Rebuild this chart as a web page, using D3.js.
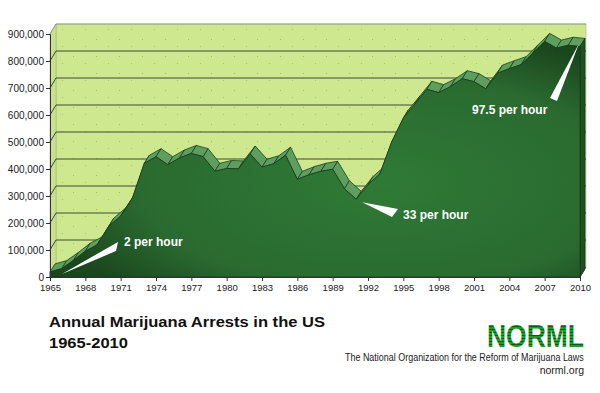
<!DOCTYPE html>
<html><head><meta charset="utf-8">
<script src="https://cdn.jsdelivr.net/npm/d3@7"></script>
<style>html,body{margin:0;padding:0;background:#fff;}svg{display:block;}</style>
</head><body>
<svg id="chart" width="600" height="393"></svg>
<script>
const years = d3.range(1965, 2011);
const arrests = [18815,31119,61843,95870,118903,188682,225828,292179,420700,445600,
  416100,441100,457600,445800,391600,401982,400300,455600,406900,419400,
  451138,361800,378709,391600,399000,326850,287850,342314,380689,499122,
  588963,641642,695201,682885,704812,734497,723627,697082,755186,771605,
  786545,829625,872721,847864,858408,853838];
const yTicks = [0,100000,200000,300000,400000,500000,600000,700000,800000,900000];
const xTickLabels = [1965,1968,1971,1974,1977,1980,1983,1986,1989,1992,1995,1998,2001,2004,2007,2010];
const notes = [
  {text:"2 per hour", year:1965, tx:124, ty:246, wedge:[[118,242],[116,251]]},
  {text:"33 per hour", year:1991, tx:403, ty:219, wedge:[[398,209],[392,217]]},
  {text:"97.5 per hour", year:2010, tx:472, ty:114, wedge:[[550,98],[557,101]]}
];
const titleLines = ["Annual Marijuana Arrests in the US","1965-2010"];
const orgName = "The National Organization for the Reform of Marijuana Laws";
const orgUrl = "norml.org";

const svg = d3.select("#chart");
const x = d3.scaleLinear().domain([1965,2010]).range([50,580]);
const y = d3.scaleLinear().domain([0,900000]).range([277,34]);
const dx = 6, dy = -10;      // wall depth
const rdx = 5, rdy = -8;     // area depth
const defs = svg.append("defs");

const pat = defs.append("pattern").attr("id","dots").attr("width",23).attr("height",17).attr("patternUnits","userSpaceOnUse");
pat.append("rect").attr("width",23).attr("height",17).attr("fill","#cde88f");
pat.append("rect").attr("x",4).attr("y",5).attr("width",1).attr("height",1).attr("fill","#8fcf3a");
pat.append("rect").attr("x",16).attr("y",12).attr("width",1).attr("height",1).attr("fill","#9ad24c");

const grad = defs.append("radialGradient").attr("id","areaGrad").attr("cx","62%").attr("cy","60%").attr("r","65%");
grad.append("stop").attr("offset","0%").attr("stop-color","#2f7a36");
grad.append("stop").attr("offset","70%").attr("stop-color","#2a6a30");
grad.append("stop").attr("offset","100%").attr("stop-color","#1b471e");

const stripes = defs.append("pattern").attr("id","stripes").attr("width",4).attr("height",3).attr("patternUnits","userSpaceOnUse");
stripes.append("rect").attr("width",4).attr("height",3).attr("fill","#1f9a2c");
stripes.append("rect").attr("y",2).attr("width",4).attr("height",1).attr("fill","#0b5e16");

const x0 = x.range()[0], x1 = x.range()[1];
const yb = y(0), yt = y(900000);

svg.append("path").attr("d",`M${x0+dx},${yt+dy}H${x1+dx}V${yb+dy}H${x0+dx}Z`).attr("fill","url(#dots)").attr("stroke","#a8b890").attr("stroke-width",0.6);
svg.append("path").attr("d",`M${x0},${yt}L${x0+dx},${yt+dy}V${yb+dy}L${x0},${yb}Z`).attr("fill","#c9e28a").attr("stroke","#9aa88a").attr("stroke-width",0.5);
svg.append("path").attr("d",`M${x0},${yb}L${x0+dx},${yb+dy}H${x1+dx}L${x1},${yb}Z`).attr("fill","#c3dc86");

svg.append("g").selectAll("path").data(yTicks.slice(1)).join("path")
  .attr("d", v => `M${x0},${y(v)}L${x0+dx},${y(v)+dy}H${x1+dx}`)
  .attr("fill","none").attr("stroke", v => v===900000 ? "#8a9a80" : "#2f3a2a").attr("stroke-width",0.9);

const pts = years.map((yr,i)=>[x(yr), y(arrests[i])]);
const ridge = svg.append("g");
for (let i=0;i<pts.length-1;i++){
  const a=pts[i], b=pts[i+1];
  ridge.append("path").attr("d",`M${a[0]},${a[1]}L${b[0]},${b[1]}L${b[0]+rdx},${b[1]+rdy}L${a[0]+rdx},${a[1]+rdy}Z`)
    .attr("fill","#5e9f5f").attr("stroke","#1d3f1e").attr("stroke-width",0.8).attr("stroke-linejoin","round");
}
const last = pts[pts.length-1];
svg.append("path").attr("d",`M${last[0]},${last[1]}L${last[0]+rdx},${last[1]+rdy}V${yb+rdy}L${last[0]},${yb}Z`)
  .attr("fill","#1f4f22").attr("stroke","#15331a").attr("stroke-width",0.8);

const area = d3.area().x((d,i)=>x(years[i])).y0(yb).y1(d=>y(d));
svg.append("path").datum(arrests).attr("d",area).attr("fill","url(#areaGrad)").attr("stroke","#163a19").attr("stroke-width",0.8);

const yAxis = svg.append("g").attr("transform",`translate(${x0},0)`)
  .call(d3.axisLeft(y).tickValues(yTicks).tickFormat(d3.format(",")).tickSize(4).tickPadding(2));
yAxis.select(".domain").attr("stroke","#333");
yAxis.selectAll(".tick line").attr("stroke","#333");
yAxis.selectAll("text").attr("font-family","Liberation Sans, Arial, sans-serif").attr("font-size","10px").attr("fill","#222");

const xAxis = svg.append("g").attr("transform",`translate(0,${yb})`)
  .call(d3.axisBottom(x).tickValues(xTickLabels).tickFormat(d3.format("d")).tickSize(4).tickPadding(3).tickSizeOuter(0));
xAxis.select(".domain").attr("stroke","#333");
xAxis.selectAll(".tick line").attr("stroke","#333");
xAxis.selectAll("text").attr("font-family","Liberation Sans, Arial, sans-serif").attr("font-size","9.5px").attr("fill","#222");
svg.append("path").attr("d",`M${x1},${yb}L${x1+dx},${yb+dy}`).attr("stroke","#333").attr("stroke-width",0.8);

const ng = svg.append("g");
notes.forEach(n=>{
  const i = years.indexOf(n.year);
  const tip = [x(n.year) + (n.year===1965?12:(n.year===2010?-1:6)), y(arrests[i]) + (n.year===1965?2:(n.year===2010?-3:3))];
  ng.append("path").attr("d",`M${tip[0]},${tip[1]}L${n.wedge[0][0]},${n.wedge[0][1]}L${n.wedge[1][0]},${n.wedge[1][1]}Z`).attr("fill","#fff");
  ng.append("text").attr("x",n.tx).attr("y",n.ty).text(n.text)
    .attr("font-family","Liberation Sans, Arial, sans-serif").attr("font-weight","bold").attr("font-size","12px").attr("fill","#fff");
});

svg.append("text").attr("x",49).attr("y",327).text(titleLines[0])
  .attr("font-family","Liberation Sans, Arial, sans-serif").attr("font-weight","bold").attr("font-size","15.5px").attr("fill","#111")
  .attr("textLength",276).attr("lengthAdjust","spacingAndGlyphs");
svg.append("text").attr("x",49).attr("y",348).text(titleLines[1])
  .attr("font-family","Liberation Sans, Arial, sans-serif").attr("font-weight","bold").attr("font-size","15.5px").attr("fill","#111")
  .attr("textLength",79).attr("lengthAdjust","spacingAndGlyphs");

svg.append("text").attr("x",487).attr("y",347).text("NORML")
  .attr("font-family","Liberation Sans, Arial, sans-serif").attr("font-weight","900").attr("font-size","31px")
  .attr("fill","url(#stripes)").attr("textLength",97).attr("lengthAdjust","spacingAndGlyphs");

// subtitle: horizontally scaled to fit the reference width
const sub = svg.append("text").attr("x",0).attr("y",0).text(orgName)
  .attr("font-family","Liberation Sans Narrow, Arial Narrow, Liberation Sans, Arial, sans-serif").attr("font-size","10px").attr("fill","#222");
const w = sub.node().getComputedTextLength();
sub.attr("transform",`translate(345,361) scale(${239/w},1)`);
svg.append("text").attr("x",584).attr("y",374).attr("text-anchor","end").text(orgUrl)
  .attr("font-family","Liberation Sans Narrow, Arial Narrow, Liberation Sans, Arial, sans-serif").attr("font-size","10.5px").attr("fill","#222");
</script>
</body></html>
